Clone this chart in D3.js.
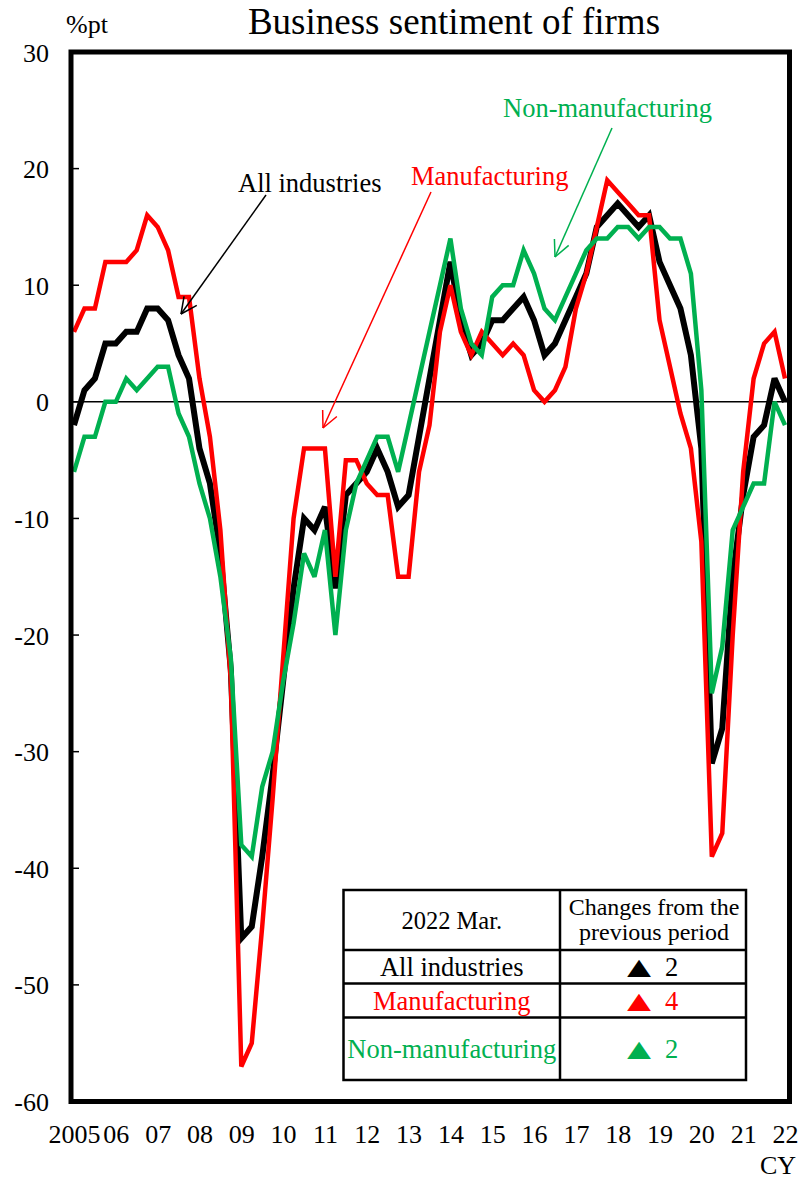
<!DOCTYPE html>
<html>
<head>
<meta charset="utf-8">
<script src="https://cdn.jsdelivr.net/npm/d3@7"></script>
<style>
  html, body { margin: 0; padding: 0; background: #fff; }
  svg { display: block; }
  text { font-family: "Liberation Serif", "Times New Roman", serif; }
</style>
</head>
<body>
<svg id="chart" width="799" height="1179"></svg>
<script>
// ---- Data (quarterly, 2005 Mar .. 2022 Mar) ----
const yearLabels = ["2005","06","07","08","09","10","11","12","13","14","15","16","17","18","19","20","21","22"];
const allIndustries = [
  -2, 1, 2, 5, 5, 6, 6, 8, 8, 7, 4, 2,
  -4, -7, -13, -23, -46, -45, -39, -32, -24, -16, -10, -11,
  -9, -16, -8, -7, -6, -4, -6, -9, -8, -3, 2, 7,
  12, 7, 4, 5, 7, 7, 8, 9, 7, 4, 5, 7,
  9, 11, 15, 16, 17, 16, 15, 16, 12, 10, 8, 4,
  -4, -31, -28, -15, -8, -3, -2, 2, 0
];
const manufacturing = [
  6, 8, 8, 12, 12, 12, 13, 16, 15, 13, 9, 9,
  2, -3, -11, -24, -57, -55, -45, -34, -22, -10, -4, -4,
  -4, -15, -5, -5, -7, -8, -8, -15, -15, -6, -2, 6,
  10, 6, 4, 6, 5, 4, 5, 4, 1, 0, 1, 3,
  8, 11, 15, 19, 18, 17, 16, 16, 7, 3, -1, -4,
  -12, -39, -37, -20, -6, 2, 5, 6, 2
];
const nonManufacturing = [
  -6, -3, -3, 0, 0, 2, 1, 2, 3, 3, -1, -3,
  -7, -10, -15, -22, -38, -39, -33, -30, -24, -19, -13, -15,
  -11, -20, -11, -7, -5, -3, -3, -6, -2, 2, 6, 10,
  14, 8, 5, 4, 9, 10, 10, 13, 11, 8, 7, 9,
  11, 13, 14, 14, 15, 15, 14, 15, 15, 14, 14, 11,
  1, -25, -21, -11, -9, -7, -7, 0, -2
];
const yTicks = [30, 20, 10, 0, -10, -20, -30, -40, -50, -60];
const tableTitle = "2022 Mar.";
const tableHeader = ["Changes from the", "previous period"];
const tableRows = ["All industries", "Manufacturing", "Non-manufacturing"];
const tableChanges = [2, 4, 2];

const colors = { all: "#000000", man: "#FF0000", non: "#00B050" };
const SERIF = "Liberation Serif, Times New Roman, serif";

// ---- Layout ----
const svg = d3.select("#chart");
const frame = { left: 71, right: 789.5, top: 52, bottom: 1101.5 };

const x = d3.scaleLinear().domain([0, allIndustries.length - 1]).range([74, 785]);
const y = d3.scaleLinear().domain([-60, 30]).range([frame.bottom, frame.top]);

function txt(sel) { return sel.append("text").attr("font-family", SERIF); }

// title & unit
txt(svg).attr("x", 454).attr("y", 34).attr("text-anchor", "middle")
  .attr("font-size", 37).attr("fill", "#000").text("Business sentiment of firms");
txt(svg).attr("x", 66).attr("y", 33).attr("font-size", 26).attr("fill", "#000").text("%pt");

// y axis labels via d3 axis (labels only)
const yAxis = d3.axisLeft(y).tickValues(yTicks).tickFormat(d => String(d)).tickSize(0).tickPadding(0);
const yg = svg.append("g").attr("transform", "translate(49,0)").call(yAxis);
yg.attr("font-family", SERIF);
yg.select(".domain").remove();
yg.selectAll("text").attr("font-size", 26).attr("font-family", SERIF)
  .attr("fill", "#000").attr("dy", "0.35em");

// inward tick marks
svg.append("g").selectAll("line").data(yTicks).join("line")
  .attr("x1", frame.left).attr("x2", frame.left + 8)
  .attr("y1", d => y(d)).attr("y2", d => y(d))
  .attr("stroke", "#000").attr("stroke-width", 1.5);

// x axis labels via d3 axis
const xAxis = d3.axisBottom(x).tickValues(yearLabels.map((d, i) => i * 4))
  .tickFormat((d, i) => yearLabels[i]).tickSize(0).tickPadding(0);
const xg = svg.append("g").attr("transform", "translate(0,1125)").call(xAxis);
xg.attr("font-family", SERIF);
xg.select(".domain").remove();
xg.selectAll("text").attr("font-size", 26).attr("font-family", SERIF)
  .attr("fill", "#000").attr("dy", "0.71em");

txt(svg).attr("x", 796).attr("y", 1174).attr("text-anchor", "end")
  .attr("font-size", 26).attr("fill", "#000").text("CY");

// zero line
svg.append("line").attr("x1", frame.left).attr("x2", frame.right)
  .attr("y1", y(0)).attr("y2", y(0)).attr("stroke", "#000").attr("stroke-width", 1.5);

// series
const line = d3.line().x((d, i) => x(i)).y(d => y(d));
const series = [
  { data: allIndustries, color: colors.all, w: 6 },
  { data: manufacturing, color: colors.man, w: 4.5 },
  { data: nonManufacturing, color: colors.non, w: 4.5 }
];
svg.append("g").selectAll("path").data(series).join("path")
  .attr("d", d => line(d.data)).attr("fill", "none")
  .attr("stroke", d => d.color).attr("stroke-width", d => d.w)
  .attr("stroke-linejoin", "miter").attr("stroke-miterlimit", 3);

// frame
svg.append("rect").attr("x", frame.left).attr("y", frame.top)
  .attr("width", frame.right - frame.left).attr("height", frame.bottom - frame.top)
  .attr("fill", "none").attr("stroke", "#000").attr("stroke-width", 5);

// annotations with arrows
function arrow(x1, y1, x2, y2, color, w) {
  const g = svg.append("g");
  g.append("line").attr("x1", x1).attr("y1", y1).attr("x2", x2).attr("y2", y2)
    .attr("stroke", color).attr("stroke-width", w);
  const ang = Math.atan2(y1 - y2, x1 - x2);
  const L = 18, a = Math.PI / 7;
  [ang - a, ang + a].forEach(t => {
    g.append("line").attr("x1", x2).attr("y1", y2)
      .attr("x2", x2 + L * Math.cos(t)).attr("y2", y2 + L * Math.sin(t))
      .attr("stroke", color).attr("stroke-width", w);
  });
}
const annotations = [
  { text: "All industries", tx: 238, ty: 192, color: colors.all, a: [266, 195, 181, 314], w: 1.5 },
  { text: "Manufacturing", tx: 411, ty: 185, color: colors.man, a: [431, 192, 323, 428], w: 1.5 },
  { text: "Non-manufacturing", tx: 503, ty: 117, color: colors.non, a: [612, 128, 555, 257], w: 1.5 }
];
annotations.forEach(d => {
  txt(svg).attr("x", d.tx).attr("y", d.ty).attr("font-size", 26.5)
    .attr("fill", d.color).text(d.text);
  arrow(...d.a, d.color, d.w);
});

// table
const tb = { x0: 343.5, x1: 560, x2: 746, rows: [890, 950, 983.5, 1017.5, 1080] };
const tg = svg.append("g");
tg.append("rect").attr("x", tb.x0).attr("y", tb.rows[0]).attr("width", tb.x2 - tb.x0)
  .attr("height", tb.rows[4] - tb.rows[0]).attr("fill", "#fff").attr("stroke", "#000").attr("stroke-width", 2.5);
tg.append("line").attr("x1", tb.x1).attr("x2", tb.x1).attr("y1", tb.rows[0]).attr("y2", tb.rows[4])
  .attr("stroke", "#000").attr("stroke-width", 2.5);
[1, 2, 3].forEach(i => tg.append("line").attr("x1", tb.x0).attr("x2", tb.x2)
  .attr("y1", tb.rows[i]).attr("y2", tb.rows[i]).attr("stroke", "#000").attr("stroke-width", 2.5));

const c1 = (tb.x0 + tb.x1) / 2, c2 = (tb.x1 + tb.x2) / 2;
txt(tg).attr("x", c1).attr("y", 929).attr("text-anchor", "middle")
  .attr("font-size", 24.5).attr("fill", "#000").text(tableTitle);
tableHeader.forEach((t, i) => txt(tg).attr("x", c2 + 1).attr("y", 915 + i * 25)
  .attr("text-anchor", "middle").attr("font-size", 24).attr("fill", "#000").text(t));
const rowColors = [colors.all, colors.man, colors.non];
tableRows.forEach((t, i) => {
  const cy = (tb.rows[i + 1] + tb.rows[i + 2]) / 2;
  txt(tg).attr("x", c1).attr("y", cy).attr("dy", "0.35em").attr("text-anchor", "middle")
    .attr("font-size", 26.5).attr("fill", rowColors[i]).text(t);
  tg.append("text").attr("transform", `translate(639,${cy}) scale(1.5,1.1)`)
    .attr("dy", "0.36em").attr("text-anchor", "middle")
    .attr("font-family", "DejaVu Sans, sans-serif")
    .attr("font-size", 27).attr("fill", rowColors[i]).text("\u25B2");
  txt(tg).attr("x", 665).attr("y", cy).attr("dy", "0.35em").attr("text-anchor", "start")
    .attr("font-size", 26.5).attr("fill", rowColors[i]).text(String(tableChanges[i]));
});
</script>
</body>
</html>
